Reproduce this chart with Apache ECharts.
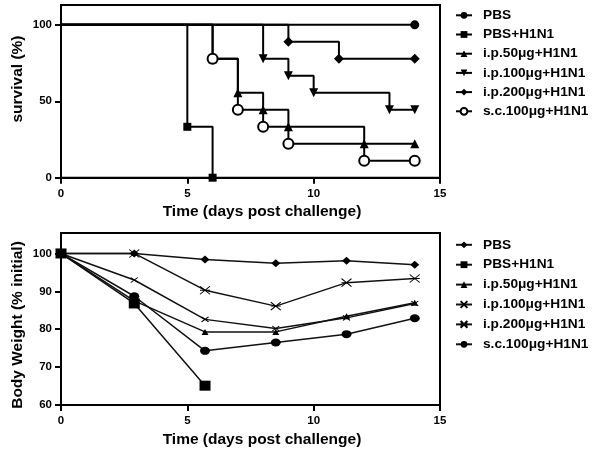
<!DOCTYPE html>
<html><head><meta charset="utf-8">
<script src="https://cdn.jsdelivr.net/npm/echarts@6/dist/echarts.min.js"></script>
<style>html,body{margin:0;padding:0;background:#fff}#c{width:600px;height:453px}</style>
</head><body><div id="c"></div>
<script>
const seriesNames = ['PBS','PBS+H1N1','i.p.50μg+H1N1','i.p.100μg+H1N1','i.p.200μg+H1N1','s.c.100μg+H1N1'];
// survival curves: [day, % survival]
const survPBS = [[0,100],[14,100]];
const survPBSH1N1 = [[0,100],[5,33.3],[6,0]];
const survIP50 = [[0,100],[6,77.8],[7,55.6],[8,44.4],[9,33.3],[12,22.2],[14,22.2]];
const survIP100 = [[0,100],[8,77.8],[9,66.7],[10,55.6],[13,44.4],[14,44.4]];
const survIP200 = [[0,100],[9,88.9],[11,77.8],[14,77.8]];
const survSC100 = [[0,100],[6,77.8],[7,44.4],[8,33.3],[9,22.2],[12,11.1],[14,11.1]];
// body weight: days and % initial
const weightDays = [0,2.9,5.7,8.5,11.3,14];
const wPBS = [100,100,98.4,97.4,98.1,97.0];
const wPBSH1N1 = [100,86.8,65.1];
const wIP50 = [100,87.5,79.3,79.3,83.4,87.0];
const wIP100 = [100,93.0,82.6,80.2,83.0,86.8];
const wIP200 = [100,100,90.3,86.1,92.3,93.4];
const wSC100 = [100,88.7,74.3,76.5,78.7,82.9];
const xTicks = [0,5,10,15];
const survTicks = [0,50,100];
const weightTicks = [60,70,80,90,100];
const xTitle = 'Time (days post challenge)';
const survTitle = 'survival (%)';
const weightTitle = 'Body Weight (% initial)';

const FONT = '"Liberation Sans", Arial, sans-serif';
const ZW = '\u200b';
const chart = echarts.init(document.getElementById('c'), null, {renderer:'canvas'});

function survData(arr){
  return arr.map((p,i)=> i===0 ? {value:p, symbol:'none'} : {value:p});
}
function wData(vals){ return vals.map((v,i)=>[weightDays[i], v]); }

const survStyle = [
  {symbol:'circle', symbolSize:9},
  {symbol:'rect', symbolSize:8},
  {symbol:'triangle', symbolSize:9},
  {symbol:'triangle', symbolSize:9, symbolRotate:180},
  {symbol:'diamond', symbolSize:10},
  {symbol:'emptyCircle', symbolSize:10, border:2.5}
];
const survArrs = [survPBS,survPBSH1N1,survIP50,survIP100,survIP200,survSC100];

const wStyle = [
  {symbol:'diamond', symbolSize:[9,8]},
  {symbol:'rect', symbolSize:[11,10]},
  {symbol:'triangle', symbolSize:[7,6]},
  {symbol:'path://M0,0L10,10M10,0L0,10', symbolSize:[7,5], border:1, stroke:true},
  {symbol:'path://M0,0L10,10M10,0L0,10M0,5L10,5', symbolSize:[10,8], border:1, stroke:true},
  {symbol:'circle', symbolSize:[10,8]}
];
const wArrs = [wPBS,wPBSH1N1,wIP50,wIP100,wIP200,wSC100];

const series = [];
survArrs.forEach((arr,i)=>{
  const s = survStyle[i];
  series.push({
    type:'line', name: seriesNames[i], xAxisIndex:0, yAxisIndex:0,
    data: survData(arr), step:'end', symbol:s.symbol, symbolSize:s.symbolSize,
    symbolRotate: s.symbolRotate || 0,
    lineStyle:{color:'#000', width:2},
    itemStyle:{color:'#000', borderColor:'#000', borderWidth: s.border || 0},
    emphasis:{disabled:true}, animation:false, z: 3
  });
});
wArrs.forEach((arr,i)=>{
  const s = wStyle[i];
  series.push({
    type:'line', name: seriesNames[i] + ZW, xAxisIndex:1, yAxisIndex:1,
    data: wData(arr), symbol:s.symbol, symbolSize:s.symbolSize,
    lineStyle:{color:'#111', width:1.5},
    itemStyle:{color: s.stroke ? 'rgba(0,0,0,0)' : '#000', borderColor:'#000', borderWidth: s.border || 0},
    emphasis:{disabled:true}, animation:false, z: 3
  });
});

function xAxis(gi){
  return {
    type:'value', gridIndex:gi, min:0, max:15, interval:5,
    axisLine:{show:true, onZero:false, lineStyle:{color:'#000', width:2}},
    axisTick:{show:true, length:6, inside:false, lineStyle:{color:'#000', width:2}},
    axisLabel:{color:'#000', fontSize:11.5, fontWeight:'bold', fontFamily:FONT, margin:10, customValues:xTicks},
    splitLine:{show:false}
  };
}
function yAxis(gi, min, max, ticks){
  return {
    type:'value', gridIndex:gi, min:min, max:max,
    axisLine:{show:true, onZero:false, lineStyle:{color:'#000', width:2}},
    axisTick:{show:true, length:6, customValues:ticks, lineStyle:{color:'#000', width:2}},
    axisLabel:{color:'#000', fontSize:11.5, fontWeight:'bold', fontFamily:FONT, margin:9, customValues:ticks},
    splitLine:{show:false}
  };
}
function legend(top, gap, suffix){
  return {
    orient:'vertical', left:455, top:top, padding:0, itemWidth:16, itemHeight:8.5, itemGap:gap,
    data: seriesNames.map(n=>n+suffix),
    formatter: n => n.replace(ZW,''),
    textStyle:{color:'#000', fontSize:13.7, fontWeight:'bold', fontFamily:FONT, padding:[0,0,0,6]},
    selectedMode:false
  };
}
function txt(x,y,text,rot){
  return {type:'text', x:x, y:y, rotation: rot||0,
    style:{text:text, fill:'#000', font:'bold 15.5px '+FONT, align:'center', verticalAlign:'middle'}};
}

chart.setOption({
  backgroundColor:'#fff',
  animation:false,
  grid:[
    {left:61, top:5, width:379, height:172.7, show:true, borderColor:'#000', borderWidth:2, backgroundColor:'transparent'},
    {left:61, top:233, width:379, height:172, show:true, borderColor:'#000', borderWidth:2, backgroundColor:'transparent'}
  ],
  xAxis:[xAxis(0), xAxis(1)],
  yAxis:[yAxis(0,0,113,survTicks), yAxis(1,60,105.4,weightTicks)],
  legend:[legend(8.3,5.2,''), legend(237.8,5.9,ZW)],
  series: series,
  graphic:[
    txt(262,212,xTitle), txt(262,440,xTitle),
    txt(18,79,survTitle,Math.PI/2), txt(18,325,weightTitle,Math.PI/2)
  ]
});
</script></body></html>
